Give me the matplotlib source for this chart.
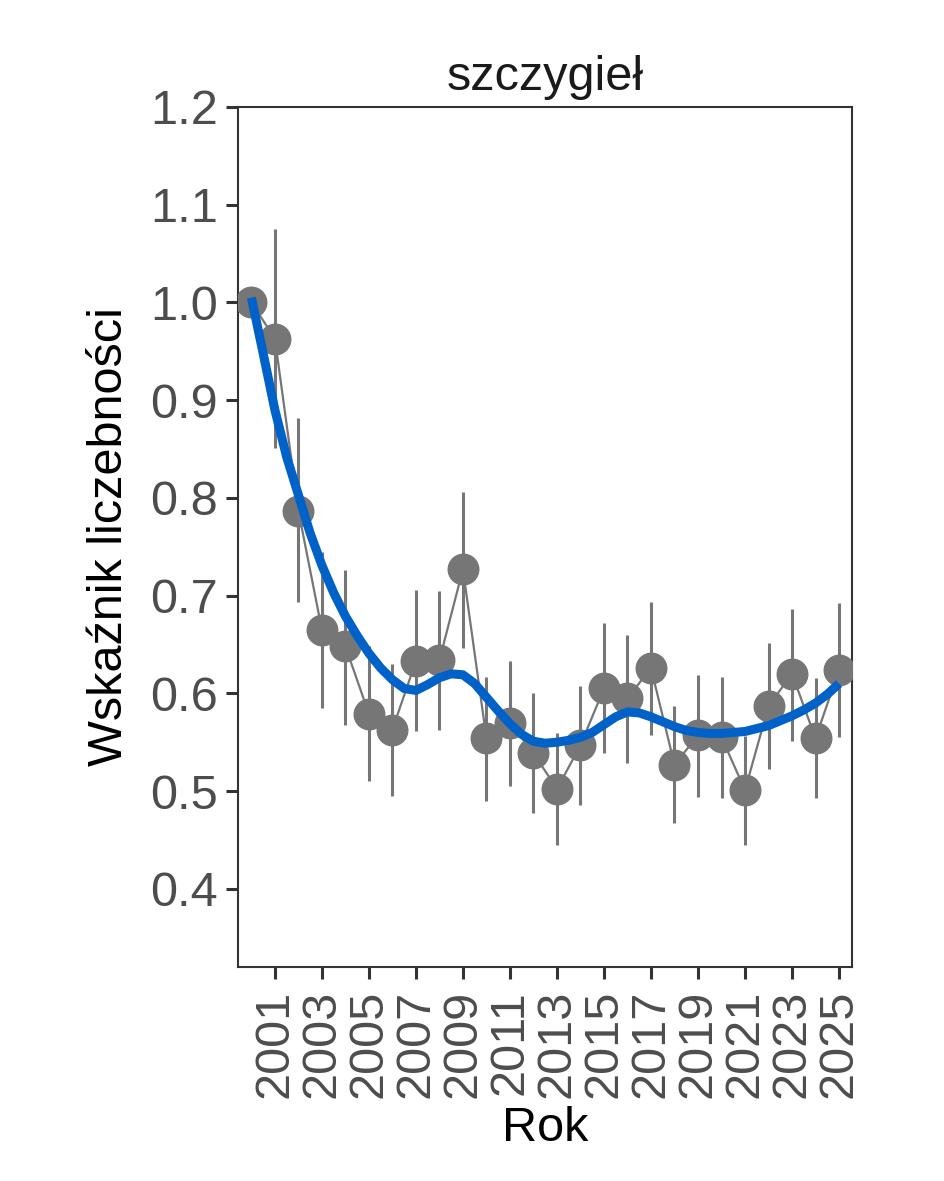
import matplotlib
matplotlib.use("Agg")
import matplotlib.pyplot as plt
import numpy as np

plt.rcParams["font.family"] = ["Liberation Sans", "DejaVu Sans"]

# yearly index with error bars
years = list(range(2000, 2026))
index = [1.000, 0.963, 0.787, 0.665, 0.648, 0.579, 0.563, 0.633, 0.634, 0.727,
         0.554, 0.570, 0.539, 0.502, 0.547, 0.605, 0.595, 0.626, 0.527, 0.557,
         0.555, 0.501, 0.587, 0.620, 0.554, 0.624]
upper = [1.000, 1.075, 0.882, 0.745, 0.726, 0.648, 0.630, 0.706, 0.705, 0.806,
         0.617, 0.633, 0.600, 0.559, 0.608, 0.672, 0.660, 0.694, 0.587, 0.619,
         0.617, 0.556, 0.652, 0.686, 0.616, 0.692]
lower = [1.000, 0.851, 0.693, 0.585, 0.568, 0.510, 0.495, 0.561, 0.563, 0.646,
         0.490, 0.505, 0.478, 0.445, 0.486, 0.539, 0.529, 0.557, 0.467, 0.494,
         0.493, 0.445, 0.523, 0.551, 0.493, 0.555]

# smoothed trend, read every half year
trend_x = [2000 + 0.5 * i for i in range(51)]
trend_y = [1.005, 0.948, 0.890, 0.842, 0.803, 0.764, 0.731, 0.703, 0.679, 0.659,
           0.641, 0.626, 0.614, 0.605, 0.603, 0.609, 0.616, 0.620, 0.619, 0.610,
           0.596, 0.582, 0.569, 0.558, 0.551, 0.549, 0.550, 0.552, 0.555, 0.560,
           0.568, 0.576, 0.581, 0.580, 0.576, 0.571, 0.566, 0.562, 0.560, 0.559,
           0.559, 0.560, 0.561, 0.564, 0.567, 0.572, 0.577, 0.583, 0.590, 0.599,
           0.610]

xticks = list(range(2001, 2026, 2))
yticks = [0.4, 0.5, 0.6, 0.7, 0.8, 0.9, 1.0, 1.1, 1.2]

GRAY = "#767676"
BLUE = "#0062C8"
FS = 35

fig = plt.figure(figsize=(9.44, 11.81), dpi=100)
ax = fig.add_axes([0.2521, 0.1812, 0.6504, 0.7282])

yr = np.array(years)
idx = np.array(index)
for x, lo, hi in zip(years[1:], lower[1:], upper[1:]):
    ax.plot([x, x], [lo, hi], color=GRAY, linewidth=2.2, solid_capstyle="butt", zorder=1)
ax.plot(yr, idx, color=GRAY, linewidth=1.6, zorder=2)
ax.plot(yr, idx, "o", color=GRAY, markersize=23, markeredgewidth=0, zorder=3)
ax.plot(trend_x, trend_y, color=BLUE, linewidth=6.5, solid_capstyle="butt",
        solid_joinstyle="round", zorder=4)

ax.set_xlim(1999.43, 2025.55)
ax.set_ylim(0.32, 1.2)
ax.set_xticks(xticks)
ax.set_xticklabels([str(t) for t in xticks], rotation=90)
ax.set_yticks(yticks)
ax.set_yticklabels([f"{t:.1f}" for t in yticks])

for s in ax.spines.values():
    s.set_color("#333333")
    s.set_linewidth(1.5)
ax.tick_params(axis="both", length=8.4, width=2.2, color="#333333",
               labelsize=FS, labelcolor="#4d4d4d", pad=6)
ax.tick_params(axis="x", pad=8)

ax.set_title("szczygieł", fontsize=FS, color="#1a1a1a", pad=12)
ax.set_xlabel("Rok", fontsize=FS, color="black", labelpad=6)
ax.set_ylabel("Wskaźnik liczebności", fontsize=FS, color="black", labelpad=13)

fig.savefig("out.png", dpi=100, facecolor="white")
